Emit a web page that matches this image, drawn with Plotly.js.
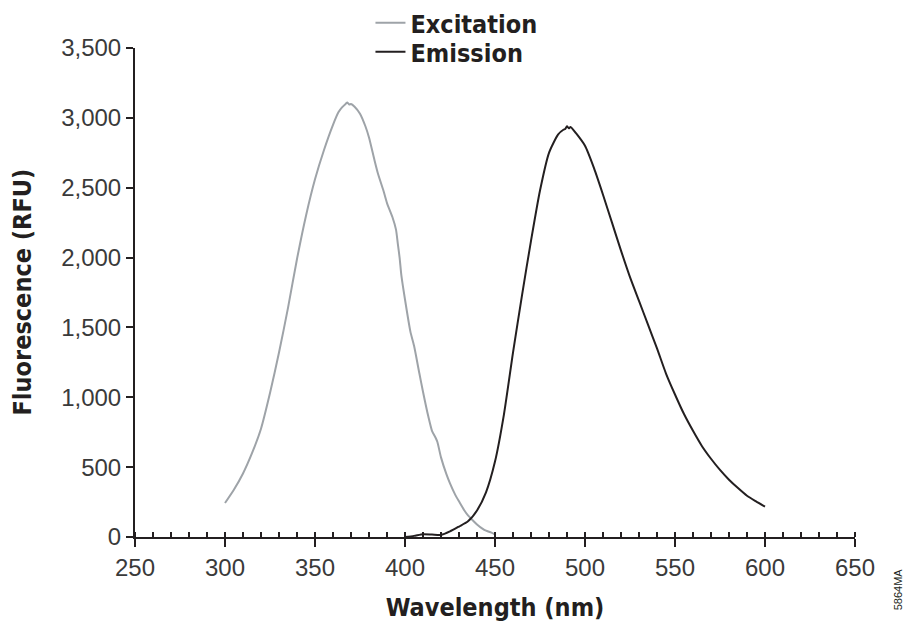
<!DOCTYPE html>
<html>
<head>
<meta charset="utf-8">
<script src="https://cdn.plot.ly/plotly-3.0.1.min.js"></script>
<style>
html,body{margin:0;padding:0;background:#fff;}
#chart{width:908px;height:622px;}
</style>
</head>
<body>
<div id="chart"></div>
<script>
// ---- Data ----
const seriesNames = ["Excitation", "Emission"];
const excitationWavelength = [300,305,310,315,320,325,330,335,340,345,350,355,360,363,365,367,368,369,370,372,375,378,380,383,385,388,390,393,395,396,397,398,400,403,405,408,410,413,415,417,418,420,423,425,428,430,433,435,438,440,443,445,448,450];
const excitationRFU = [243,340,455,600,775,1030,1320,1640,1990,2300,2560,2770,2950,3040,3075,3100,3110,3095,3100,3080,3030,2940,2860,2700,2600,2480,2390,2290,2200,2100,2000,1870,1700,1470,1370,1170,1040,860,760,710,680,570,450,384,300,255,190,155,115,90,60,45,31,18];
const emissionWavelength = [400,405,410,415,420,425,430,435,440,445,450,455,460,465,470,475,480,485,488,489,490,491,492,495,500,505,510,515,520,525,530,535,540,545,550,555,560,565,570,575,580,585,590,595,600];
const emissionRFU = [0,8,20,18,15,40,75,112,190,320,540,880,1320,1730,2120,2480,2750,2880,2915,2920,2940,2925,2935,2890,2800,2640,2450,2250,2050,1860,1690,1520,1350,1170,1020,880,760,650,560,480,410,350,295,255,217];
const xTickValues = [250,300,350,400,450,500,550,600,650];
const yTickValues = [0,500,1000,1500,2000,2500,3000,3500];
const yTickLabels = ["0","500","1,000","1,500","2,000","2,500","3,000","3,500"];
const xTitle = "Wavelength (nm)";
const yTitle = "Fluorescence (RFU)";
const figureCode = "5864MA";

// ---- Styles ----
const ink = "#231f20";
const exColor = "#9ea3a8";
const boldFont = {family: "Liberation Sans Narrow, DejaVu Sans Condensed, Arial Narrow, sans-serif", size: 25, color: ink, weight: 700};
const tickFont = {family: "Liberation Sans, Arial, sans-serif", size: 24, color: "#3a3a3a"};

const traces = [
  {x: excitationWavelength, y: excitationRFU, name: seriesNames[0], type: "scatter", mode: "lines",
   line: {color: exColor, width: 2, shape: "spline", smoothing: 0.6}, legend: "legend"},
  {x: emissionWavelength, y: emissionRFU, name: seriesNames[1], type: "scatter", mode: "lines",
   line: {color: ink, width: 2, shape: "spline", smoothing: 0.6}, legend: "legend2"}
];

const legendCommon = {xref: "container", yref: "container", xanchor: "left", yanchor: "middle",
  bgcolor: "rgba(0,0,0,0)", borderwidth: 0, font: boldFont, itemwidth: 30};

const layout = {
  width: 908, height: 622,
  margin: {l: 135, r: 53, t: 48, b: 85, autoexpand: false},
  paper_bgcolor: "#fff", plot_bgcolor: "#fff",
  showlegend: true,
  legend: Object.assign({x: 0.408, y: 1 - 23/622}, legendCommon),
  legend2: Object.assign({x: 0.408, y: 1 - 52/622}, legendCommon),
  xaxis: {
    range: [250, 650], tickvals: xTickValues, ticktext: xTickValues.map(String),
    showgrid: false, zeroline: false, showline: true, linecolor: ink, linewidth: 2,
    ticks: "outside", ticklen: 8, tickwidth: 2, tickcolor: ink, tickangle: 0,
    minor: {dtick: 10, tick0: 250, ticks: "inside", ticklen: 5, tickwidth: 1.5, tickcolor: ink, showgrid: false},
    tickfont: tickFont, automargin: true,
    title: {text: xTitle, font: boldFont, standoff: 22},
    fixedrange: true
  },
  yaxis: {
    range: [0, 3500], tickvals: yTickValues, ticktext: yTickLabels,
    showgrid: false, zeroline: false, showline: true, linecolor: ink, linewidth: 2,
    ticks: "outside", ticklen: 7, tickwidth: 2, tickcolor: ink,
    tickfont: tickFont, automargin: true,
    fixedrange: true
  },
  annotations: [
    {text: yTitle, xref: "paper", yref: "paper", x: -113/720, y: 0.5, textangle: -90,
     showarrow: false, xanchor: "center", yanchor: "middle", font: boldFont},
    {text: figureCode, xref: "paper", yref: "paper", x: 1.0 + 43/720, y: -0.06, textangle: -90,
     showarrow: false, xanchor: "center", yanchor: "top",
     font: {family: "Liberation Sans, Arial, sans-serif", size: 11, color: ink}}
  ]
};

Plotly.newPlot("chart", traces, layout, {displayModeBar: false, staticPlot: true});
</script>
</body>
</html>
